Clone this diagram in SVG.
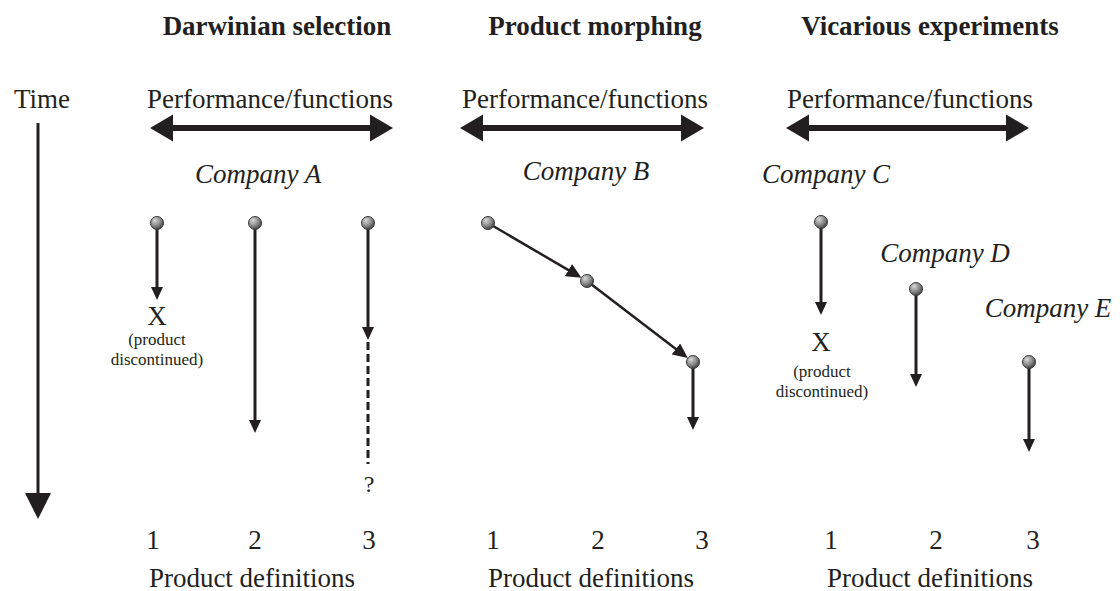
<svg xmlns="http://www.w3.org/2000/svg" width="1120" height="591" viewBox="0 0 1120 591">
  <style>
    text { font-family: "Liberation Serif", "Times New Roman", serif; fill: #231f20; }
    .head { font-size: 27px; font-weight: bold; text-anchor: middle; }
    .lbl { font-size: 27px; text-anchor: middle; }
    .co { font-size: 27px; font-style: italic; text-anchor: middle; }
    .small { font-size: 17px; text-anchor: middle; }
    .shaft { stroke: #231f20; stroke-width: 6; fill: none; }
    .arrowhead { fill: #231f20; }
    .flow { stroke: #231f20; stroke-width: 3; fill: none; marker-end: url(#tip); }
    .diag { stroke: #231f20; stroke-width: 2.5; fill: none; marker-end: url(#tipBig); }
    .dash { stroke: #231f20; stroke-width: 3; fill: none; stroke-dasharray: 8 4; }
    .node { fill: url(#sphere); stroke: #3a3a3a; stroke-width: 1; }
  </style>
  <defs>
    <radialGradient id="sphere" cx="0.35" cy="0.3" r="0.75">
      <stop offset="0" stop-color="#d8d8d8"/>
      <stop offset="0.55" stop-color="#8a8a8a"/>
      <stop offset="1" stop-color="#3c3c3c"/>
    </radialGradient>
    <marker id="tip" markerUnits="userSpaceOnUse" markerWidth="14" markerHeight="12" refX="2" refY="6" orient="auto">
      <path d="M0,0 L13,6 L0,12 z" fill="#231f20"/>
    </marker>
    <marker id="tipBig" markerUnits="userSpaceOnUse" markerWidth="16" markerHeight="14" refX="2" refY="7" orient="auto">
      <path d="M0,0 L15,7 L0,14 z" fill="#231f20"/>
    </marker>
  </defs>

  <!-- column headings -->
  <g id="headings">
    <text class="head" x="277" y="35">Darwinian selection</text>
    <text class="head" x="595" y="35">Product morphing</text>
    <text class="head" x="930" y="35">Vicarious experiments</text>
  </g>

  <!-- time axis -->
  <g id="time-axis">
    <text class="lbl" x="14" y="108" style="text-anchor:start">Time</text>
    <line x1="38" y1="123" x2="38" y2="496" stroke="#231f20" stroke-width="3"/>
    <polygon class="arrowhead" points="25,493 51,493 38,519"/>
  </g>

  <!-- performance/functions axes -->
  <g id="perf-axis-1">
    <text class="lbl" x="270" y="108">Performance/functions</text>
    <line class="shaft" x1="170" y1="128" x2="373" y2="128"/>
    <polygon class="arrowhead" points="150,128 173,114.5 173,141.5"/>
    <polygon class="arrowhead" points="393,128 370,114.5 370,141.5"/>
  </g>
  <g id="perf-axis-2">
    <text class="lbl" x="585" y="108">Performance/functions</text>
    <line class="shaft" x1="480" y1="128" x2="684" y2="128"/>
    <polygon class="arrowhead" points="460,128 483,114.5 483,141.5"/>
    <polygon class="arrowhead" points="704,128 681,114.5 681,141.5"/>
  </g>
  <g id="perf-axis-3">
    <text class="lbl" x="910" y="108">Performance/functions</text>
    <line class="shaft" x1="806" y1="128" x2="1009" y2="128"/>
    <polygon class="arrowhead" points="786,128 809,114.5 809,141.5"/>
    <polygon class="arrowhead" points="1029,128 1006,114.5 1006,141.5"/>
  </g>

  <!-- connectors -->
  <g id="connectors">
    <!-- Darwinian selection -->
    <line class="flow" x1="157" y1="223" x2="157" y2="289"/>
    <line class="flow" x1="255" y1="223" x2="255" y2="422"/>
    <line class="flow" x1="368" y1="223" x2="368" y2="329"/>
    <line class="dash" x1="368" y1="342" x2="368" y2="464"/>
    <!-- Product morphing -->
    <line class="diag" x1="488" y1="223" x2="570.2" y2="271.1"/>
    <line class="diag" x1="587" y1="281" x2="677.5" y2="350.2"/>
    <line class="flow" x1="693" y1="362" x2="693" y2="419"/>
    <!-- Vicarious experiments -->
    <line class="flow" x1="821" y1="222" x2="821" y2="304"/>
    <line class="flow" x1="916" y1="289" x2="916" y2="376"/>
    <line class="flow" x1="1029" y1="362" x2="1029" y2="441"/>
  </g>

  <!-- Company A -->
  <g id="company-a">
    <text class="co" x="258" y="183">Company A</text>
    <circle class="node" cx="157" cy="223" r="6.5"/>
    <circle class="node" cx="255" cy="223" r="6.5"/>
    <circle class="node" cx="368" cy="223" r="6.5"/>
    <text class="lbl" x="157" y="325">X</text>
    <text class="small" x="157" y="345">(product</text>
    <text class="small" x="157" y="365">discontinued)</text>
    <text class="lbl" x="369" y="492" style="font-size:24px">?</text>
  </g>

  <!-- Company B -->
  <g id="company-b">
    <text class="co" x="586" y="180">Company B</text>
    <circle class="node" cx="488" cy="223" r="6.5"/>
    <circle class="node" cx="587" cy="281" r="6.5"/>
    <circle class="node" cx="693" cy="362" r="6.5"/>
  </g>

  <!-- Company C -->
  <g id="company-c">
    <text class="co" x="826" y="183">Company C</text>
    <circle class="node" cx="821" cy="222" r="6.5"/>
    <text class="lbl" x="821" y="351">X</text>
    <text class="small" x="822" y="377">(product</text>
    <text class="small" x="822" y="397">discontinued)</text>
  </g>

  <!-- Company D -->
  <g id="company-d">
    <text class="co" x="945" y="262">Company D</text>
    <circle class="node" cx="916" cy="289" r="6.5"/>
  </g>

  <!-- Company E -->
  <g id="company-e">
    <text class="co" x="1048" y="317">Company E</text>
    <circle class="node" cx="1029" cy="362" r="6.5"/>
  </g>

  <!-- product definition scales -->
  <g id="scale-1">
    <text class="lbl" x="153" y="549">1</text>
    <text class="lbl" x="255" y="549">2</text>
    <text class="lbl" x="369" y="549">3</text>
    <text class="lbl" x="252" y="587">Product definitions</text>
  </g>
  <g id="scale-2">
    <text class="lbl" x="493" y="549">1</text>
    <text class="lbl" x="598" y="549">2</text>
    <text class="lbl" x="702" y="549">3</text>
    <text class="lbl" x="591" y="587">Product definitions</text>
  </g>
  <g id="scale-3">
    <text class="lbl" x="831" y="549">1</text>
    <text class="lbl" x="936" y="549">2</text>
    <text class="lbl" x="1033" y="549">3</text>
    <text class="lbl" x="930" y="587">Product definitions</text>
  </g>
</svg>
